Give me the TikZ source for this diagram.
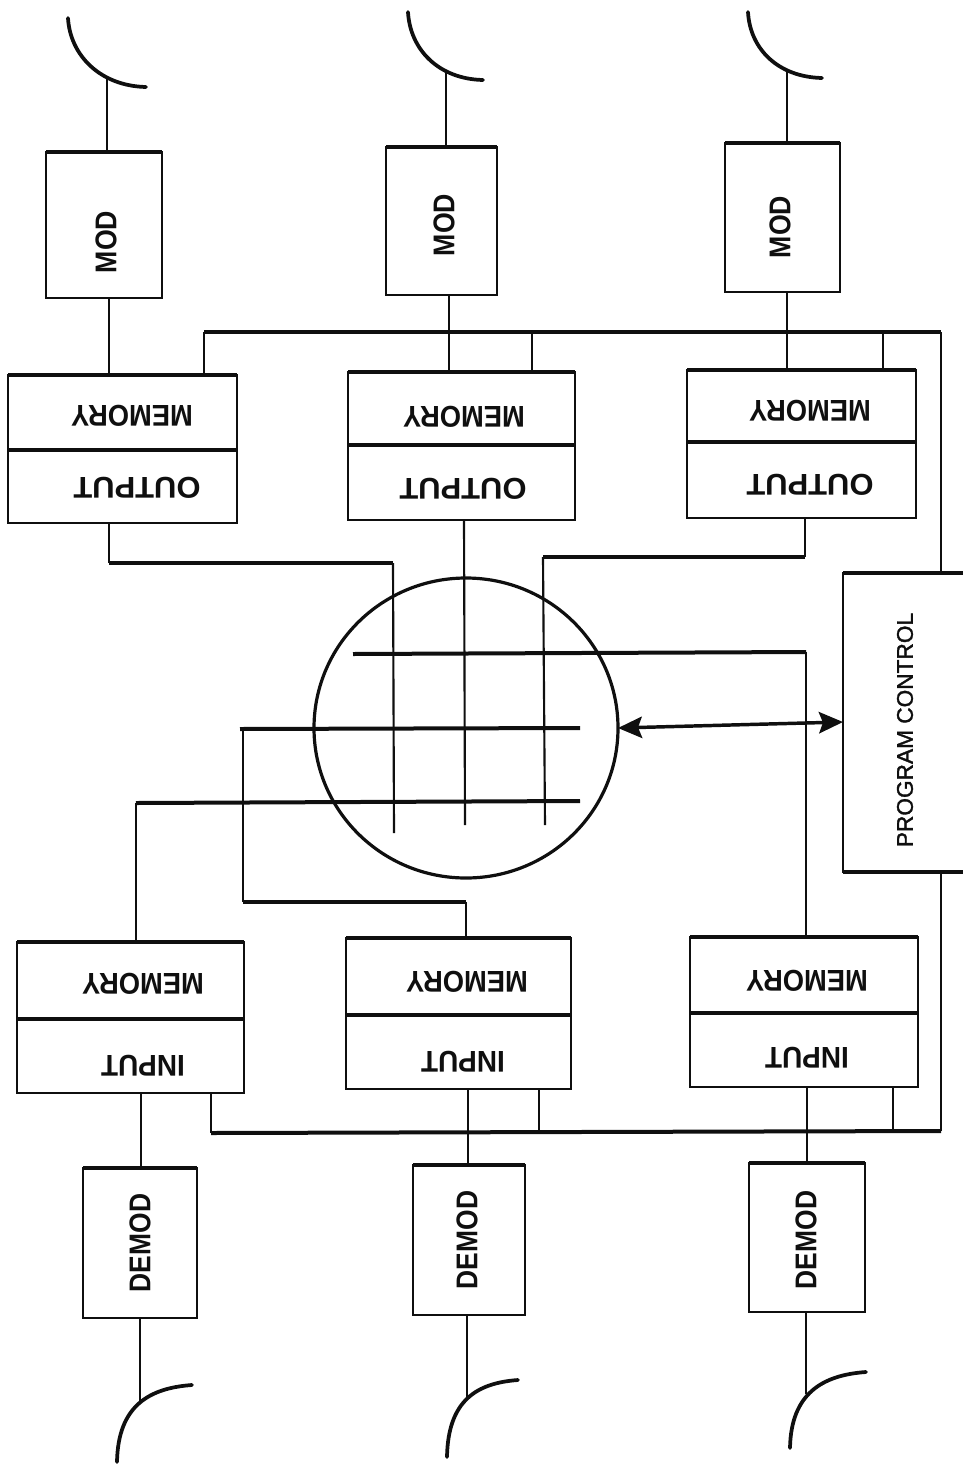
\documentclass[tikz,border=0pt]{standalone}
\usepackage{fontspec}
\setmainfont{Liberation Sans}
\usetikzlibrary{arrows.meta,shapes.geometric}
\newcommand{\lblfont}[1]{\fontsize{22.5}{24}\bfseries\selectfont\addfontfeature{FakeStretch=#1}}
\newcommand{\bx}[5]{%
  \pgfmathsetmacro{\bxw}{(#4-#2)*0.75}\pgfmathsetmacro{\bxh}{(#5-#3)*0.75}%
  \node[boxs,minimum width=\bxw pt,minimum height=\bxh pt] (#1) at ({(#2+#4)/2},{(#3+#5)/2}) {};%
  \draw[heavy] (#1.north west) -- (#1.north east);%
}
\tikzset{
  boxs/.style={draw=ink,line width=2pt,inner sep=0pt,outer sep=0pt,rectangle},
  thin line/.style={draw=ink,line width=1.6pt},
  heavy/.style={draw=ink,line width=3pt},
  mid/.style={draw=ink,line width=2pt},
  dish/.style={draw=ink,line width=2.8pt,line cap=round},
  vtext/.style={text=ink,rotate=90,inner sep=0pt},
  utext/.style={text=ink,rotate=180,inner sep=0pt}
}
\definecolor{ink}{RGB}{15,15,15}
\begin{document}
\begin{tikzpicture}[x=0.75pt,y=-0.75pt]
\useasboundingbox (0,0) rectangle (963,1464);
% boxes
\bx{mod1}{46}{152}{162}{298}
\bx{mod2}{386}{147}{497}{295}
\bx{mod3}{725}{143}{840}{292}
\bx{mem1}{8}{375}{237}{450}
\bx{out1}{8}{450}{237}{523}
\bx{mem2}{348}{372}{575}{445}
\bx{out2}{348}{445}{575}{520}
\bx{mem3}{687}{370}{916}{442}
\bx{out3}{687}{442}{916}{518}
\bx{imem1}{17}{942}{244}{1019}
\bx{inp1}{17}{1019}{244}{1093}
\bx{imem2}{346}{938}{571}{1015}
\bx{inp2}{346}{1015}{571}{1089}
\bx{imem3}{690}{937}{918}{1013}
\bx{inp3}{690}{1013}{918}{1087}
\bx{dem1}{83}{1168}{197}{1318}
\bx{dem2}{413}{1165}{525}{1315}
\bx{dem3}{749}{1163}{865}{1312}
% program control: open at the right edge
\node[rectangle,inner sep=0pt,outer sep=0pt,minimum width=90pt,minimum height=224.25pt] (pc) at (903,722.5) {};
\draw[mid] (963,573) -- (pc.north west) -- (pc.south west) -- (963,872);
\draw[heavy] (pc.north west) -- (963,573);
\draw[heavy] (pc.south west) -- (963,872);
% switch
\node[draw=ink,line width=2.4pt,ellipse,inner sep=0pt,outer sep=0pt,minimum width=228pt,minimum height=225pt] (sw) at (466,728) {};
% labels
\node[vtext,font=\lblfont{0.89}] (tm1) at (106,242) {MOD};
\node[vtext,font=\lblfont{0.89}] (tm2) at (444,225) {MOD};
\node[vtext,font=\lblfont{0.89}] (tm3) at (780,227) {MOD};
\node[utext,font=\lblfont{0.91}] (tn1) at (132,416) {MEMORY};
\node[utext,font=\lblfont{0.91}] (tn2) at (464,417) {MEMORY};
\node[utext,font=\lblfont{0.91}] (tn3) at (810,411) {MEMORY};
\node[utext,font=\lblfont{1.03}] (to1) at (137,488) {OUTPUT};
\node[utext,font=\lblfont{1.03}] (to2) at (463,489) {OUTPUT};
\node[utext,font=\lblfont{1.03}] (to3) at (810,485) {OUTPUT};
\node[utext,font=\lblfont{0.91}] (tq1) at (143,984) {MEMORY};
\node[utext,font=\lblfont{0.91}] (tq2) at (467,982) {MEMORY};
\node[utext,font=\lblfont{0.91}] (tq3) at (807,981) {MEMORY};
\node[utext,font=\lblfont{0.93}] (ti1) at (143,1066) {INPUT};
\node[utext,font=\lblfont{0.93}] (ti2) at (463,1062) {INPUT};
\node[utext,font=\lblfont{0.93}] (ti3) at (807,1058) {INPUT};
\node[vtext,font=\lblfont{0.88}] (td1) at (140,1243) {DEMOD};
\node[vtext,font=\lblfont{0.88}] (td2) at (467,1240) {DEMOD};
\node[vtext,font=\lblfont{0.88}] (td3) at (806,1240) {DEMOD};
\node[vtext,font=\fontsize{17}{19}\selectfont\addfontfeature{FakeBold=1.5}] (tpc) at (905,730) {PROGRAM CONTROL};
% dishes, with their feed points
\draw[dish,shift={(68,18)}] (0,0) .. controls (2,37) and (32,68) .. (78,69);
\draw[dish,shift={(408,12)}] (0,0) .. controls (2,37) and (30,67) .. (75,68);
\draw[dish,shift={(748,12)}] (0,0) .. controls (2,37) and (30,65) .. (74,66);
\draw[dish,shift={(117,1462)}] (0,0) .. controls (1,-57) and (33,-74) .. (75,-77);
\draw[dish,shift={(447,1457)}] (0,0) .. controls (1,-57) and (30,-74) .. (71,-77);
\draw[dish,shift={(790,1448)}] (0,0) .. controls (1,-55) and (33,-73) .. (76,-76);
\coordinate (a1) at (107,79);
\coordinate (a2) at (446,72);
\coordinate (a3) at (787,70);
\coordinate (b1) at (140,1402);
\coordinate (b2) at (467,1398);
\coordinate (b3) at (806,1394);
% vertical guide lines used by the connectors
\coordinate (v1) at (109,0);
\coordinate (v2) at (449,0);
\coordinate (v3) at (787,0);
\coordinate (o1) at (109,0);
\coordinate (o2) at (463,0);
\coordinate (o3) at (805,0);
\coordinate (u1) at (141,0);
\coordinate (u2) at (468,0);
\coordinate (u3) at (807,0);
% antenna to modulator, modulator to memory
\draw[thin line] (a1) -- (a1 |- mod1.north);
\draw[thin line] (a2) -- (a2 |- mod2.north);
\draw[thin line] (a3) -- (a3 |- mod3.north);
\draw[thin line] (v1 |- mod1.south) -- (v1 |- mem1.north);
\draw[thin line] (v2 |- mod2.south) -- (v2 |- mem2.north);
\draw[thin line] (v3 |- mod3.south) -- (v3 |- mem3.north);
% control bus, top
\coordinate (bt1) at (204,332);
\coordinate (bt2) at (941,332);
\draw[heavy] (bt1) -- (bt2);
\draw[mid] (bt1) -- (bt1 |- mem1.north);
\draw[thin line] (bt2) -- (bt2 |- pc.north);
\coordinate (bt3) at (532,332);
\coordinate (bt4) at (883,332);
\draw[thin line] (bt3) -- (bt3 |- mem2.north);
\draw[thin line] (bt4) -- (bt4 |- mem3.north);
% control bus, bottom
\coordinate (bb1) at (211,1133);
\coordinate (bb2) at (941,1131);
\draw[heavy] (bb1) -- (bb2);
\draw[mid] (bb1) -- (bb1 |- inp1.south);
\draw[thin line] (bb2) -- (bb2 |- pc.south);
\coordinate (bb3) at (539,1132);
\coordinate (bb4) at (893,1131);
\draw[thin line] (bb3) -- (bb3 |- inp2.south);
\draw[thin line] (bb4) -- (bb4 |- inp3.south);
% outputs to the switch
\coordinate (g1) at (393,563);
\coordinate (g1e) at (394,833);
\coordinate (g2) at (464,520);
\coordinate (g2e) at (465,825);
\coordinate (g3) at (543,557);
\coordinate (g3e) at (545,825);
\draw[thin line] (o1 |- out1.south) -- (o1 |- g1);
\draw[heavy] (o1 |- g1) -- (g1);
\draw[thin line] (g1) -- (g1e);
\draw[thin line] (g2) -- (g2e);
\draw[thin line] (o3 |- out3.south) -- (o3 |- g3);
\draw[heavy] (o3 |- g3) -- (g3);
\draw[thin line] (g3) -- (g3e);
% inputs to the switch
\coordinate (h1a) at (353,654);
\coordinate (h1b) at (806,652);
\draw[heavy] (h1a) -- (h1b);
\draw[thin line] (h1b) -- (h1b |- imem3.north);
\coordinate (h2a) at (240,729);
\coordinate (h2b) at (580,728);
\coordinate (h2c) at (243,729);
\coordinate (h2d) at (243,902);
\coordinate (h2e) at (466,902);
\draw[heavy] (h2a) -- (h2b);
\draw[mid] (h2c) -- (h2d);
\draw[heavy] (h2d) -- (h2e);
\draw[thin line] (h2e) -- (h2e |- imem2.north);
\coordinate (h3a) at (136,803);
\coordinate (h3b) at (580,801);
\draw[heavy] (h3a) -- (h3b);
\draw[thin line] (h3a) -- (h3a |- imem1.north);
% control arrow
\coordinate (pcl) at (843,722);
\draw[draw=ink,line width=2.6pt,{Stealth[length=18pt,width=16pt,inset=3pt]}-{Stealth[length=18pt,width=16pt,inset=3pt]}] (sw.east) -- (pcl);
% input to demodulator to antenna
\draw[thin line] (u1 |- inp1.south) -- (u1 |- dem1.north);
\draw[thin line] (u2 |- inp2.south) -- (u2 |- dem2.north);
\draw[thin line] (u3 |- inp3.south) -- (u3 |- dem3.north);
\draw[thin line] (b1 |- dem1.south) -- (b1);
\draw[thin line] (b2 |- dem2.south) -- (b2);
\draw[thin line] (b3 |- dem3.south) -- (b3);
\end{tikzpicture}
\end{document}
